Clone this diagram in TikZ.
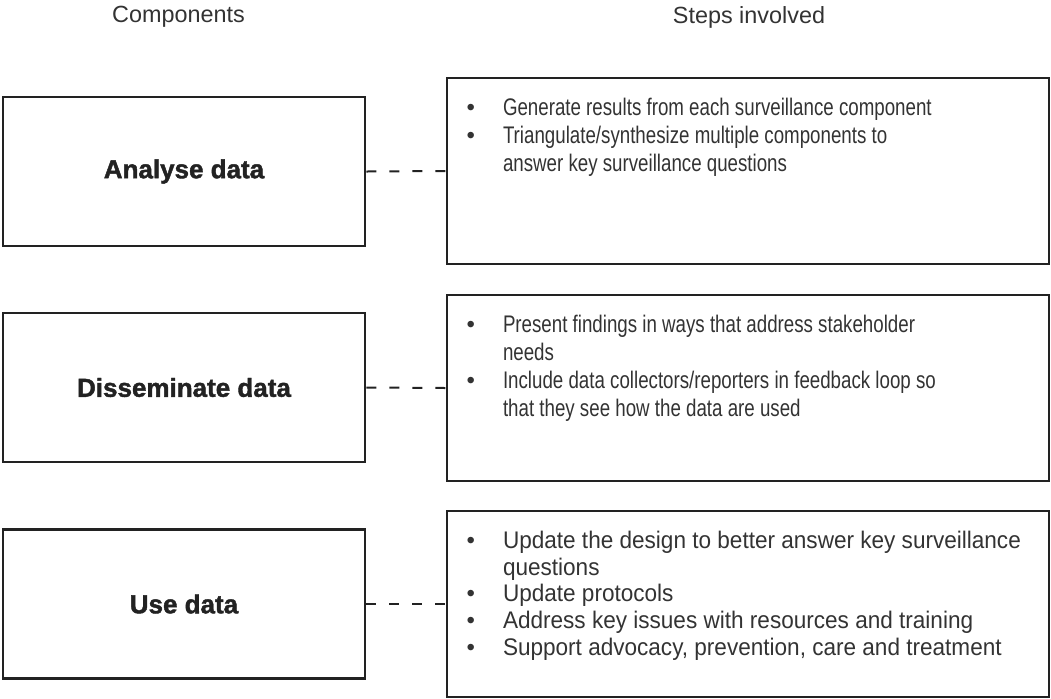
\documentclass[tikz,border=0pt]{standalone}
\usepackage{fontspec}
\usepackage{enumitem}
\setmainfont{Liberation Sans}
\newfontfamily\narrowfont{Liberation Sans}[FakeStretch=0.78]
\newfontfamily\widefont{Liberation Sans}[FakeStretch=0.94]
\newfontfamily\heavyfont{Liberation Sans Bold}[FakeBold=1.6]
\definecolor{linecol}{HTML}{222222}
\definecolor{textcol}{HTML}{333333}

% bullet list set in a box of fixed size, top aligned
\newcommand{\stepitems}[3]{%
    \begin{minipage}[c][93pt][t]{301pt}
        \vspace*{10pt}
        #1\fontsize{12}{#2}\selectfont
        \begin{itemize}[leftmargin=28pt,labelsep=14pt,topsep=0pt,
            itemsep=0pt,parsep=0pt,partopsep=0pt]
            #3
        \end{itemize}
    \end{minipage}}

\begin{document}
\begin{tikzpicture}[
    x=0.5pt,
    y=-0.5pt,
    heading/.style={
        font=\fontsize{11.7}{14}\selectfont,
        text=textcol,
        anchor=base
    },
    compbox/.style={
        draw=linecol,
        line width=1.35pt,
        minimum width=181pt,
        minimum height=74.5pt,
        inner sep=0pt,
        text=linecol,
        font=\heavyfont\fontsize{13}{15}\selectfont
    },
    stepsbox/.style={
        draw=linecol,
        line width=1.35pt,
        inner sep=0pt,
        text=textcol
    },
    link/.style={
        draw=linecol,
        line width=1pt,
        dash pattern=on 5pt off 6.5pt
    }
]
    \useasboundingbox (0,0) rectangle (1051,698);

    \node[heading] (comphead) at (178.5,22) {Components};
    \node[heading] (stepshead) at (749,23) {Steps involved};

    \node[compbox] (analyse) at (184,171.5) {Analyse data};
    \node[stepsbox] (steps-analyse) at (748,171) {\stepitems{\narrowfont}{14}{
        \item Generate results from each surveillance component
        \item Triangulate/synthesize multiple components to\\
            answer key surveillance questions}};
    \draw[link] (analyse.east) -- (steps-analyse.west);

    \node[compbox] (disseminate) at (184,387.5) {Disseminate data};
    \node[stepsbox] (steps-disseminate) at (748,388) {\stepitems{\narrowfont}{14}{
        \item Present findings in ways that address stakeholder\\
            needs
        \item Include data collectors/reporters in feedback loop so\\
            that they see how the data are used}};
    \draw[link] (disseminate.east) -- (steps-disseminate.west);

    \node[compbox] (use) at (184,604) {Use data};
    \node[stepsbox] (steps-use) at (748,604) {\stepitems{\widefont}{13.35}{
        \item Update the design to better answer key surveillance\\
            questions
        \item Update protocols
        \item Address key issues with resources and training
        \item Support advocacy, prevention, care and treatment}};
    \draw[link] (use.east) -- (steps-use.west);
\end{tikzpicture}
\end{document}
